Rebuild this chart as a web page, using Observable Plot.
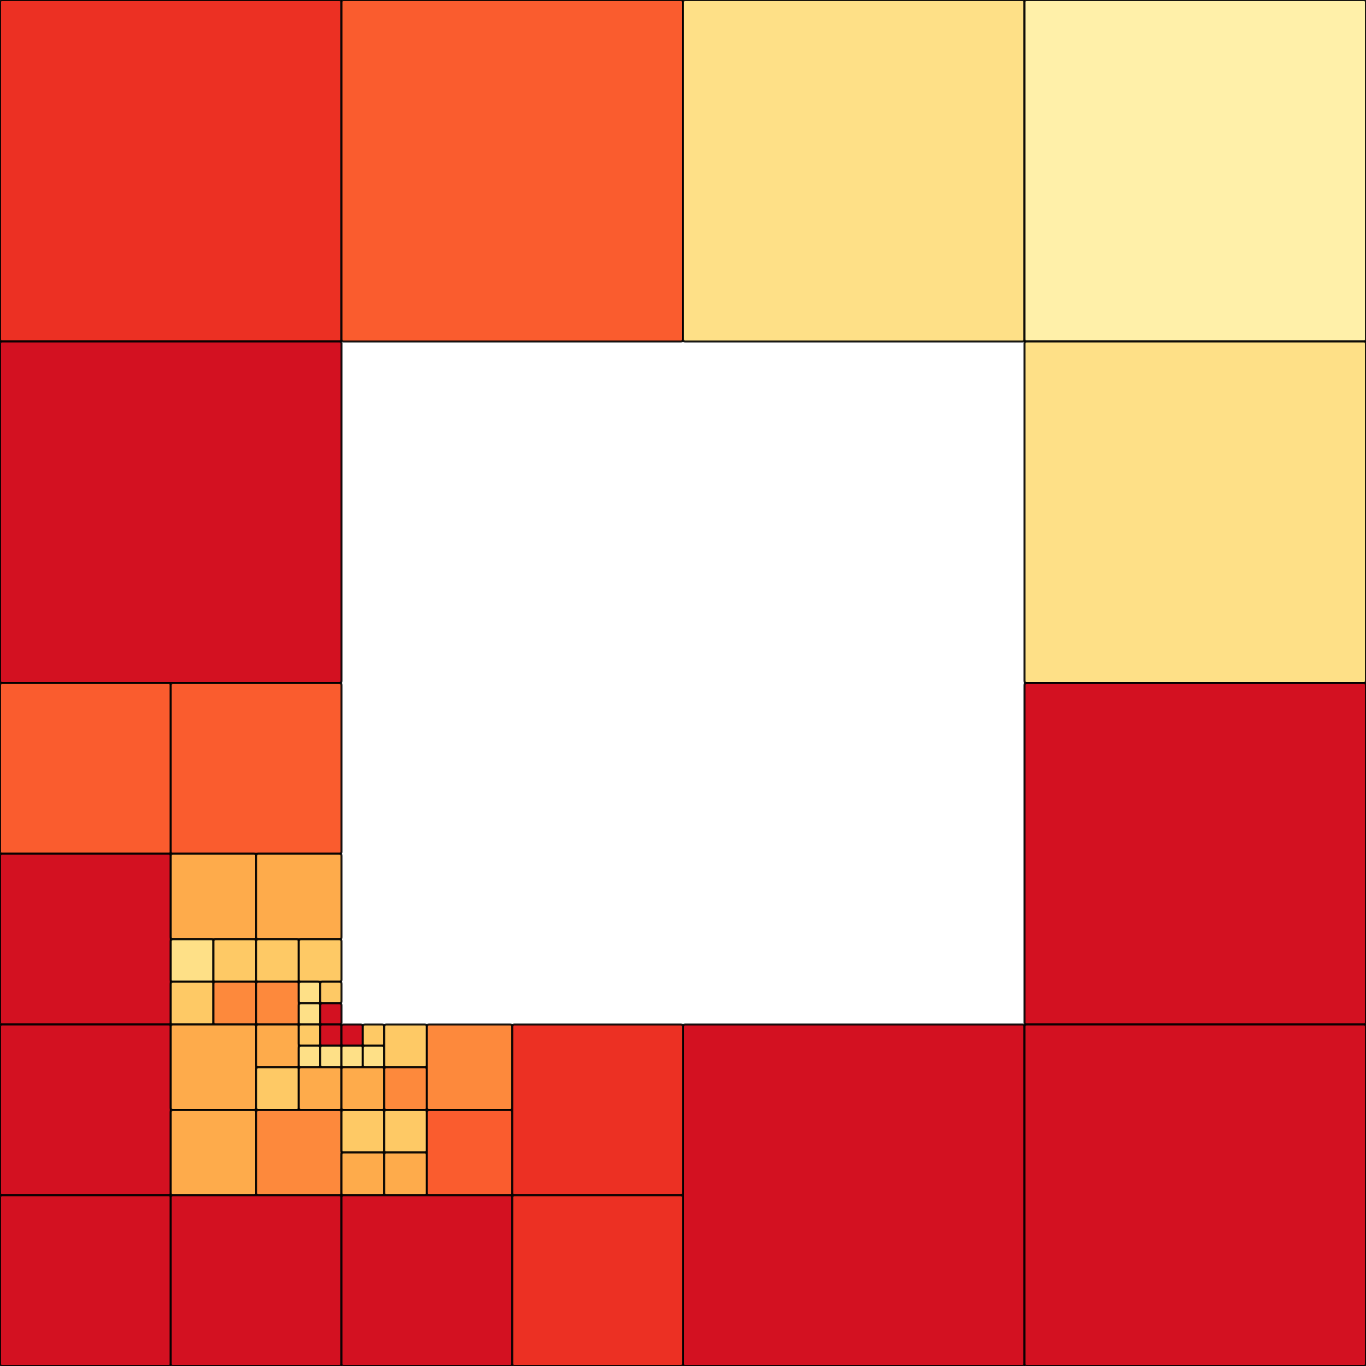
<!DOCTYPE html>
<html><head><meta charset="utf-8">
<script src="https://cdn.jsdelivr.net/npm/d3@7"></script>
<script src="https://cdn.jsdelivr.net/npm/@observablehq/plot@0.6"></script>
<style>html,body{margin:0;padding:0;background:#fff;overflow:hidden}</style>
</head><body><div id="chart"></div>
<script>
// Quadtree cells on a 64x64 grid: left, top, side, value (0..1 on YlOrRd)
const cellX = [0,16,32,48,0,48,48,32,48,0,8,0,8,12,8,10,8,10,12,14,12,14,15,14,15,0,8,12,14,15,14,15,12,14,8,12,0,8,16,17,16,17,18,16,18,20,16,18,16,18,20,24,16,24];
const cellY = [0,0,0,0,16,16,32,48,48,32,32,40,40,40,44,44,46,46,44,44,46,46,46,47,47,48,48,48,48,48,49,49,50,50,52,52,56,56,48,48,49,49,48,50,50,48,52,52,54,54,52,48,56,56];
const cellSize = [16,16,16,16,16,16,16,16,16,8,8,8,4,4,2,2,2,2,2,2,2,1,1,1,1,8,4,2,1,1,1,1,2,2,4,4,8,8,1,1,1,1,2,2,2,4,2,2,2,2,4,8,8,8];
const cellValue = [0.7,0.6,0.2,0.1,0.8,0.2,0.8,0.8,0.8,0.6,0.6,0.8,0.4,0.4,0.2,0.3,0.3,0.5,0.3,0.3,0.5,0.2,0.3,0.2,0.8,0.8,0.4,0.4,0.3,0.8,0.2,0.2,0.3,0.4,0.4,0.5,0.8,0.8,0.8,0.3,0.2,0.2,0.3,0.4,0.5,0.5,0.3,0.3,0.4,0.4,0.6,0.7,0.8,0.7];

const cells = cellX.map((x, i) => ({x1: x, x2: x + cellSize[i], y1: cellY[i], y2: cellY[i] + cellSize[i], v: cellValue[i]}));

const chart = Plot.plot({
  width: 1366, height: 1366,
  margin: 0,
  x: {domain: [0, 64], axis: null},
  y: {domain: [0, 64], reverse: true, axis: null},
  color: {type: "linear", scheme: "YlOrRd", domain: [0, 1]},
  marks: [
    Plot.rect(cells, {x1: "x1", x2: "x2", y1: "y1", y2: "y2", fill: "v", stroke: "black", strokeWidth: 2, strokeOpacity: 0.9, rx: 2})
  ]
});
document.getElementById("chart").appendChild(chart);
</script>
</body></html>
